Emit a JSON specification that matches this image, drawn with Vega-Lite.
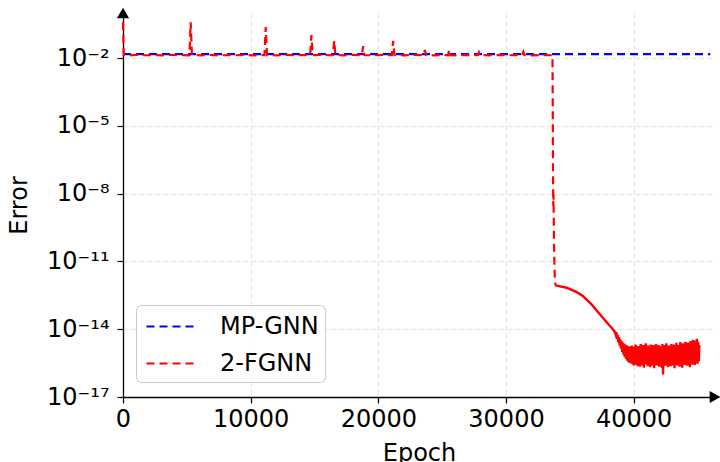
{
  "$schema": "https://vega.github.io/schema/vega-lite/v6.json",
  "autosize": {"type": "none"},
  "padding": {"left": 123, "top": 13, "right": 5, "bottom": 65},
  "width": 592,
  "height": 384,
  "background": "white",
  "config": {
    "view": {"stroke": null},
    "font": "DejaVu Sans",
    "axis": {
      "labelFont": "DejaVu Sans",
      "titleFont": "DejaVu Sans",
      "labelFontSize": 24,
      "titleFontSize": 24,
      "titleFontWeight": "normal",
      "labelColor": "black",
      "titleColor": "black",
      "domainColor": "black",
      "domainWidth": 1.3,
      "tickColor": "black",
      "tickWidth": 1.2,
      "tickSize": 6,
      "grid": true,
      "gridColor": "#e3e3e3",
      "gridDash": [5, 3],
      "gridWidth": 1
    },
    "legend": {
      "labelFont": "DejaVu Sans",
      "labelFontSize": 24,
      "labelColor": "black"
    }
  },
  "encoding": {
    "x": {
      "field": "epoch",
      "type": "quantitative",
      "scale": {"domain": [0, 46370], "nice": false, "zero": false},
      "axis": {
        "values": [0, 10000, 20000, 30000, 40000],
        "format": "d",
        "title": "Epoch",
        "labelPadding": 4,
        "titlePadding": 10,
        "labelFlush": false
      }
    },
    "y": {
      "field": "error",
      "type": "quantitative",
      "scale": {"type": "log", "domain": [1e-17, 1], "nice": false},
      "axis": {
        "values": [1e-17, 1e-14, 1e-11, 1e-8, 1e-5, 1e-2],
        "labelExpr": "datum.value < 1e-16 ? '10⁻¹⁷' : datum.value < 1e-13 ? '10⁻¹⁴' : datum.value < 1e-10 ? '10⁻¹¹' : datum.value < 1e-7 ? '10⁻⁸' : datum.value < 1e-4 ? '10⁻⁵' : '10⁻²'",
        "title": "Error",
        "labelPadding": 8,
        "titlePadding": 15
      }
    }
  },
  "layer": [
    {
      "data": {"values": [
        {"epoch": 0, "error": 0.015, "model": "MP-GNN"},
        {"epoch": 46000, "error": 0.015, "model": "MP-GNN"}
      ]},
      "mark": {"type": "line", "strokeDash": [8, 5], "strokeWidth": 2.2},
      "encoding": {
        "color": {
          "field": "model",
          "type": "nominal",
          "scale": {"domain": ["MP-GNN", "2-FGNN"], "range": ["#0000ff", "#ff0000"]},
          "legend": {
            "title": null,
            "orient": "none",
            "legendX": 13,
            "legendY": 292,
            "symbolType": "M-0.786,0H2.857",
            "symbolSize": 784,
            "symbolStrokeWidth": 2.2,
            "symbolDash": [8, 5],
            "symbolFillColor": "transparent",
            "labelOffset": 47,
            "rowPadding": 9,
            "padding": 6,
            "strokeColor": "#cccccc",
            "fillColor": "rgba(255,255,255,0.85)",
            "cornerRadius": 5
          }
        }
      }
    },
    {
      "data": {"name": "fgnn"},
      "transform": [{"filter": "datum.epoch <= 33870"}],
      "mark": {"type": "line", "strokeDash": [8, 5], "strokeWidth": 2.2},
      "encoding": {
        "color": {"field": "model", "type": "nominal"}
      }
    },
    {
      "data": {"name": "fgnn"},
      "transform": [{"filter": "datum.epoch >= 33870"}],
      "mark": {"type": "line", "strokeWidth": 2.4},
      "encoding": {
        "color": {"field": "model", "type": "nominal"}
      }
    },
    {
      "data": {"values": [{"epoch": 0, "error": 1}]},
      "mark": {"type": "point", "shape": "triangle-up", "filled": true, "color": "black", "opacity": 1, "size": 150, "clip": false}
    },
    {
      "data": {"values": [{"epoch": 46370, "error": 1e-17}]},
      "mark": {"type": "point", "shape": "triangle-right", "filled": true, "color": "black", "opacity": 1, "size": 150, "clip": false}
    }
  ],
  "datasets": {
    "fgnn": [
      {"epoch": 0, "error": 0.39, "model": "2-FGNN"},
      {"epoch": 60, "error": 0.0138, "model": "2-FGNN"},
      {"epoch": 500, "error": 0.0133, "model": "2-FGNN"},
      {"epoch": 1100, "error": 0.0142, "model": "2-FGNN"},
      {"epoch": 1700, "error": 0.0135, "model": "2-FGNN"},
      {"epoch": 2400, "error": 0.0137, "model": "2-FGNN"},
      {"epoch": 3100, "error": 0.0132, "model": "2-FGNN"},
      {"epoch": 3800, "error": 0.0141, "model": "2-FGNN"},
      {"epoch": 4500, "error": 0.0136, "model": "2-FGNN"},
      {"epoch": 5200, "error": 0.0134, "model": "2-FGNN"},
      {"epoch": 5300, "error": 0.39, "model": "2-FGNN"},
      {"epoch": 5400, "error": 0.0139, "model": "2-FGNN"},
      {"epoch": 6100, "error": 0.0134, "model": "2-FGNN"},
      {"epoch": 6800, "error": 0.0141, "model": "2-FGNN"},
      {"epoch": 7500, "error": 0.0133, "model": "2-FGNN"},
      {"epoch": 8200, "error": 0.0138, "model": "2-FGNN"},
      {"epoch": 8900, "error": 0.0135, "model": "2-FGNN"},
      {"epoch": 9600, "error": 0.014, "model": "2-FGNN"},
      {"epoch": 10300, "error": 0.0133, "model": "2-FGNN"},
      {"epoch": 11080, "error": 0.0137, "model": "2-FGNN"},
      {"epoch": 11180, "error": 0.24, "model": "2-FGNN"},
      {"epoch": 11280, "error": 0.0136, "model": "2-FGNN"},
      {"epoch": 12000, "error": 0.0134, "model": "2-FGNN"},
      {"epoch": 12700, "error": 0.014, "model": "2-FGNN"},
      {"epoch": 13400, "error": 0.0135, "model": "2-FGNN"},
      {"epoch": 14100, "error": 0.0138, "model": "2-FGNN"},
      {"epoch": 14660, "error": 0.0134, "model": "2-FGNN"},
      {"epoch": 14760, "error": 0.105, "model": "2-FGNN"},
      {"epoch": 14860, "error": 0.0136, "model": "2-FGNN"},
      {"epoch": 15500, "error": 0.0139, "model": "2-FGNN"},
      {"epoch": 16440, "error": 0.0135, "model": "2-FGNN"},
      {"epoch": 16540, "error": 0.059, "model": "2-FGNN"},
      {"epoch": 16640, "error": 0.0138, "model": "2-FGNN"},
      {"epoch": 17300, "error": 0.0134, "model": "2-FGNN"},
      {"epoch": 18000, "error": 0.014, "model": "2-FGNN"},
      {"epoch": 18710, "error": 0.0135, "model": "2-FGNN"},
      {"epoch": 18810, "error": 0.034, "model": "2-FGNN"},
      {"epoch": 18910, "error": 0.0137, "model": "2-FGNN"},
      {"epoch": 19600, "error": 0.0134, "model": "2-FGNN"},
      {"epoch": 20300, "error": 0.0139, "model": "2-FGNN"},
      {"epoch": 21060, "error": 0.0136, "model": "2-FGNN"},
      {"epoch": 21160, "error": 0.059, "model": "2-FGNN"},
      {"epoch": 21260, "error": 0.0138, "model": "2-FGNN"},
      {"epoch": 22000, "error": 0.0134, "model": "2-FGNN"},
      {"epoch": 22800, "error": 0.0139, "model": "2-FGNN"},
      {"epoch": 23550, "error": 0.0135, "model": "2-FGNN"},
      {"epoch": 23640, "error": 0.023, "model": "2-FGNN"},
      {"epoch": 23730, "error": 0.0137, "model": "2-FGNN"},
      {"epoch": 24400, "error": 0.0134, "model": "2-FGNN"},
      {"epoch": 25100, "error": 0.014, "model": "2-FGNN"},
      {"epoch": 25460, "error": 0.0135, "model": "2-FGNN"},
      {"epoch": 25550, "error": 0.024, "model": "2-FGNN"},
      {"epoch": 25640, "error": 0.0136, "model": "2-FGNN"},
      {"epoch": 26300, "error": 0.0133, "model": "2-FGNN"},
      {"epoch": 27000, "error": 0.0138, "model": "2-FGNN"},
      {"epoch": 27800, "error": 0.0135, "model": "2-FGNN"},
      {"epoch": 27880, "error": 0.018, "model": "2-FGNN"},
      {"epoch": 27960, "error": 0.0137, "model": "2-FGNN"},
      {"epoch": 28700, "error": 0.0134, "model": "2-FGNN"},
      {"epoch": 29500, "error": 0.0139, "model": "2-FGNN"},
      {"epoch": 30300, "error": 0.0135, "model": "2-FGNN"},
      {"epoch": 31000, "error": 0.0138, "model": "2-FGNN"},
      {"epoch": 31260, "error": 0.0134, "model": "2-FGNN"},
      {"epoch": 31350, "error": 0.019, "model": "2-FGNN"},
      {"epoch": 31440, "error": 0.0136, "model": "2-FGNN"},
      {"epoch": 32100, "error": 0.0133, "model": "2-FGNN"},
      {"epoch": 32800, "error": 0.0138, "model": "2-FGNN"},
      {"epoch": 33500, "error": 0.0135, "model": "2-FGNN"},
      {"epoch": 33640, "error": 0.0137, "model": "2-FGNN"},
      {"epoch": 33660, "error": 1e-4, "model": "2-FGNN"},
      {"epoch": 33680, "error": 2e-7, "model": "2-FGNN"},
      {"epoch": 33700, "error": 3e-9, "model": "2-FGNN"},
      {"epoch": 33720, "error": 1e-8, "model": "2-FGNN"},
      {"epoch": 33760, "error": 5e-11, "model": "2-FGNN"},
      {"epoch": 33820, "error": 2e-12, "model": "2-FGNN"},
      {"epoch": 33870, "error": 8.7e-13, "model": "2-FGNN"},
      {"epoch": 34750, "error": 6.9e-13, "model": "2-FGNN"},
      {"epoch": 35500, "error": 4.5e-13, "model": "2-FGNN"},
      {"epoch": 36020, "error": 2.95e-13, "model": "2-FGNN"},
      {"epoch": 36700, "error": 1.26e-13, "model": "2-FGNN"},
      {"epoch": 37350, "error": 4.6e-14, "model": "2-FGNN"},
      {"epoch": 37900, "error": 2e-14, "model": "2-FGNN"},
      {"epoch": 38370, "error": 1e-14, "model": "2-FGNN"},
      {"epoch": 38500, "error": 8e-15, "model": "2-FGNN"},
      {"epoch": 38600, "error": 5.5e-15, "model": "2-FGNN"},
      {"epoch": 38650, "error": 7.5e-15, "model": "2-FGNN"},
      {"epoch": 38700, "error": 3.8e-15, "model": "2-FGNN"},
      {"epoch": 38750, "error": 5.5e-15, "model": "2-FGNN"},
      {"epoch": 38800, "error": 2.7e-15, "model": "2-FGNN"},
      {"epoch": 38850, "error": 4.5e-15, "model": "2-FGNN"},
      {"epoch": 38900, "error": 1.9e-15, "model": "2-FGNN"},
      {"epoch": 38950, "error": 3.6e-15, "model": "2-FGNN"},
      {"epoch": 39000, "error": 1.4e-15, "model": "2-FGNN"},
      {"epoch": 39050, "error": 3e-15, "model": "2-FGNN"},
      {"epoch": 39100, "error": 1e-15, "model": "2-FGNN"},
      {"epoch": 39150, "error": 2.6e-15, "model": "2-FGNN"},
      {"epoch": 39200, "error": 7.5e-16, "model": "2-FGNN"},
      {"epoch": 39250, "error": 2.3e-15, "model": "2-FGNN"},
      {"epoch": 39300, "error": 6e-16, "model": "2-FGNN"},
      {"epoch": 39350, "error": 2.1e-15, "model": "2-FGNN"},
      {"epoch": 39400, "error": 4.8e-16, "model": "2-FGNN"},
      {"epoch": 39450, "error": 1.9e-15, "model": "2-FGNN"},
      {"epoch": 39500, "error": 4e-16, "model": "2-FGNN"},
      {"epoch": 39550, "error": 1.8e-15, "model": "2-FGNN"},
      {"epoch": 39600, "error": 3.6e-16, "model": "2-FGNN"},
      {"epoch": 39650, "error": 1.7e-15, "model": "2-FGNN"},
      {"epoch": 39700, "error": 3.1e-16, "model": "2-FGNN"},
      {"epoch": 39750, "error": 1.6e-15, "model": "2-FGNN"},
      {"epoch": 39800, "error": 3.4e-16, "model": "2-FGNN"},
      {"epoch": 39850, "error": 1.9e-15, "model": "2-FGNN"},
      {"epoch": 39900, "error": 2.9e-16, "model": "2-FGNN"},
      {"epoch": 39950, "error": 1.4e-15, "model": "2-FGNN"},
      {"epoch": 40000, "error": 2.5e-16, "model": "2-FGNN"},
      {"epoch": 40050, "error": 1.7e-15, "model": "2-FGNN"},
      {"epoch": 40100, "error": 2.7e-16, "model": "2-FGNN"},
      {"epoch": 40150, "error": 2.1e-15, "model": "2-FGNN"},
      {"epoch": 40200, "error": 3.4e-16, "model": "2-FGNN"},
      {"epoch": 40250, "error": 1.4e-15, "model": "2-FGNN"},
      {"epoch": 40300, "error": 2.3e-16, "model": "2-FGNN"},
      {"epoch": 40350, "error": 1.8e-15, "model": "2-FGNN"},
      {"epoch": 40400, "error": 3e-16, "model": "2-FGNN"},
      {"epoch": 40450, "error": 1.5e-15, "model": "2-FGNN"},
      {"epoch": 40500, "error": 2.2e-16, "model": "2-FGNN"},
      {"epoch": 40550, "error": 2.2e-15, "model": "2-FGNN"},
      {"epoch": 40600, "error": 3.6e-16, "model": "2-FGNN"},
      {"epoch": 40650, "error": 1.3e-15, "model": "2-FGNN"},
      {"epoch": 40700, "error": 2.5e-16, "model": "2-FGNN"},
      {"epoch": 40750, "error": 2e-15, "model": "2-FGNN"},
      {"epoch": 40800, "error": 2e-16, "model": "2-FGNN"},
      {"epoch": 40850, "error": 1.7e-15, "model": "2-FGNN"},
      {"epoch": 40900, "error": 3.2e-16, "model": "2-FGNN"},
      {"epoch": 40950, "error": 2.4e-15, "model": "2-FGNN"},
      {"epoch": 41000, "error": 2.8e-16, "model": "2-FGNN"},
      {"epoch": 41050, "error": 1.45e-15, "model": "2-FGNN"},
      {"epoch": 41100, "error": 2.3e-16, "model": "2-FGNN"},
      {"epoch": 41150, "error": 1.9e-15, "model": "2-FGNN"},
      {"epoch": 41200, "error": 3.4e-16, "model": "2-FGNN"},
      {"epoch": 41250, "error": 1.6e-15, "model": "2-FGNN"},
      {"epoch": 41300, "error": 2.1e-16, "model": "2-FGNN"},
      {"epoch": 41350, "error": 2.1e-15, "model": "2-FGNN"},
      {"epoch": 41400, "error": 3e-16, "model": "2-FGNN"},
      {"epoch": 41450, "error": 1.4e-15, "model": "2-FGNN"},
      {"epoch": 41500, "error": 2.5e-16, "model": "2-FGNN"},
      {"epoch": 41550, "error": 2e-15, "model": "2-FGNN"},
      {"epoch": 41600, "error": 1.9e-16, "model": "2-FGNN"},
      {"epoch": 41650, "error": 1.75e-15, "model": "2-FGNN"},
      {"epoch": 41700, "error": 3.1e-16, "model": "2-FGNN"},
      {"epoch": 41750, "error": 2.2e-15, "model": "2-FGNN"},
      {"epoch": 41800, "error": 2.5e-16, "model": "2-FGNN"},
      {"epoch": 41850, "error": 1.5e-15, "model": "2-FGNN"},
      {"epoch": 41900, "error": 3.5e-16, "model": "2-FGNN"},
      {"epoch": 41950, "error": 2e-15, "model": "2-FGNN"},
      {"epoch": 42000, "error": 2.2e-16, "model": "2-FGNN"},
      {"epoch": 42050, "error": 1.8e-15, "model": "2-FGNN"},
      {"epoch": 42100, "error": 2.7e-16, "model": "2-FGNN"},
      {"epoch": 42150, "error": 1.4e-15, "model": "2-FGNN"},
      {"epoch": 42200, "error": 2e-16, "model": "2-FGNN"},
      {"epoch": 42250, "error": 2.2e-15, "model": "2-FGNN"},
      {"epoch": 42300, "error": 1e-16, "model": "2-FGNN"},
      {"epoch": 42350, "error": 1.7e-15, "model": "2-FGNN"},
      {"epoch": 42400, "error": 2.9e-16, "model": "2-FGNN"},
      {"epoch": 42450, "error": 2e-15, "model": "2-FGNN"},
      {"epoch": 42500, "error": 2.4e-16, "model": "2-FGNN"},
      {"epoch": 42550, "error": 2.4e-15, "model": "2-FGNN"},
      {"epoch": 42600, "error": 3.3e-16, "model": "2-FGNN"},
      {"epoch": 42650, "error": 1.45e-15, "model": "2-FGNN"},
      {"epoch": 42700, "error": 2.1e-16, "model": "2-FGNN"},
      {"epoch": 42750, "error": 1.9e-15, "model": "2-FGNN"},
      {"epoch": 42800, "error": 3.1e-16, "model": "2-FGNN"},
      {"epoch": 42850, "error": 1.6e-15, "model": "2-FGNN"},
      {"epoch": 42900, "error": 2.3e-16, "model": "2-FGNN"},
      {"epoch": 42950, "error": 2.2e-15, "model": "2-FGNN"},
      {"epoch": 43000, "error": 3.4e-16, "model": "2-FGNN"},
      {"epoch": 43050, "error": 1.7e-15, "model": "2-FGNN"},
      {"epoch": 43100, "error": 2.5e-16, "model": "2-FGNN"},
      {"epoch": 43150, "error": 2.1e-15, "model": "2-FGNN"},
      {"epoch": 43200, "error": 1.9e-16, "model": "2-FGNN"},
      {"epoch": 43250, "error": 1.5e-15, "model": "2-FGNN"},
      {"epoch": 43300, "error": 3e-16, "model": "2-FGNN"},
      {"epoch": 43350, "error": 2.5e-15, "model": "2-FGNN"},
      {"epoch": 43400, "error": 2.5e-16, "model": "2-FGNN"},
      {"epoch": 43450, "error": 1.8e-15, "model": "2-FGNN"},
      {"epoch": 43500, "error": 3.6e-16, "model": "2-FGNN"},
      {"epoch": 43550, "error": 2e-15, "model": "2-FGNN"},
      {"epoch": 43600, "error": 2.2e-16, "model": "2-FGNN"},
      {"epoch": 43650, "error": 2.7e-15, "model": "2-FGNN"},
      {"epoch": 43700, "error": 2.8e-16, "model": "2-FGNN"},
      {"epoch": 43750, "error": 1.7e-15, "model": "2-FGNN"},
      {"epoch": 43800, "error": 2e-16, "model": "2-FGNN"},
      {"epoch": 43850, "error": 2.4e-15, "model": "2-FGNN"},
      {"epoch": 43900, "error": 3.2e-16, "model": "2-FGNN"},
      {"epoch": 43950, "error": 2e-15, "model": "2-FGNN"},
      {"epoch": 44000, "error": 2.6e-16, "model": "2-FGNN"},
      {"epoch": 44050, "error": 2.8e-15, "model": "2-FGNN"},
      {"epoch": 44100, "error": 3.7e-16, "model": "2-FGNN"},
      {"epoch": 44150, "error": 1.8e-15, "model": "2-FGNN"},
      {"epoch": 44200, "error": 2.4e-16, "model": "2-FGNN"},
      {"epoch": 44250, "error": 2.6e-15, "model": "2-FGNN"},
      {"epoch": 44300, "error": 3.1e-16, "model": "2-FGNN"},
      {"epoch": 44350, "error": 2.1e-15, "model": "2-FGNN"},
      {"epoch": 44400, "error": 2.1e-16, "model": "2-FGNN"},
      {"epoch": 44450, "error": 3e-15, "model": "2-FGNN"},
      {"epoch": 44500, "error": 3.4e-16, "model": "2-FGNN"},
      {"epoch": 44550, "error": 2.2e-15, "model": "2-FGNN"},
      {"epoch": 44600, "error": 2.7e-16, "model": "2-FGNN"},
      {"epoch": 44650, "error": 3.4e-15, "model": "2-FGNN"},
      {"epoch": 44700, "error": 3.8e-16, "model": "2-FGNN"},
      {"epoch": 44750, "error": 2.5e-15, "model": "2-FGNN"},
      {"epoch": 44800, "error": 2.6e-16, "model": "2-FGNN"},
      {"epoch": 44850, "error": 3.2e-15, "model": "2-FGNN"},
      {"epoch": 44900, "error": 3.6e-16, "model": "2-FGNN"},
      {"epoch": 44950, "error": 3.8e-15, "model": "2-FGNN"},
      {"epoch": 45000, "error": 3e-16, "model": "2-FGNN"},
      {"epoch": 45050, "error": 2.8e-15, "model": "2-FGNN"},
      {"epoch": 45100, "error": 3.8e-16, "model": "2-FGNN"},
      {"epoch": 45140, "error": 2e-15, "model": "2-FGNN"}
    ]
  }
}
